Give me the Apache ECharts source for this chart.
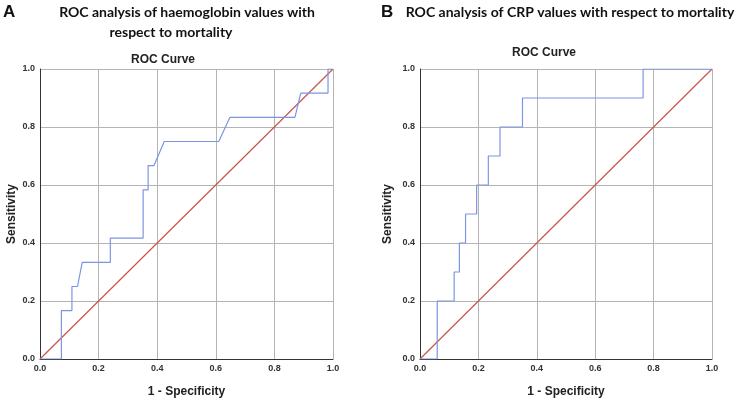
<!DOCTYPE html>
<html><head><meta charset="utf-8">
<script src="https://cdn.jsdelivr.net/npm/echarts@6/dist/echarts.min.js"></script>
<style>html,body{margin:0;padding:0;background:#fff}#c{width:740px;height:403px}</style>
</head><body><div id="c"></div>
<script>
// Panel A: haemoglobin ROC curve (1 - specificity, sensitivity)
var hbX = [0, 0.073, 0.073, 0.109, 0.109, 0.128, 0.144, 0.240, 0.240, 0.352, 0.352, 0.369, 0.369, 0.389, 0.424, 0.610, 0.648, 0.870, 0.890, 0.983, 0.983, 1.0];
var hbY = [0, 0, 0.167, 0.167, 0.250, 0.250, 0.333, 0.333, 0.417, 0.417, 0.583, 0.583, 0.667, 0.667, 0.750, 0.750, 0.833, 0.833, 0.917, 0.917, 1.0, 1.0];
// Panel B: CRP ROC curve
var crpX = [0, 0.059, 0.059, 0.117, 0.117, 0.135, 0.135, 0.156, 0.156, 0.194, 0.194, 0.234, 0.234, 0.274, 0.274, 0.351, 0.351, 0.764, 0.764, 1.0];
var crpY = [0, 0, 0.2, 0.2, 0.3, 0.3, 0.4, 0.4, 0.5, 0.5, 0.6, 0.6, 0.7, 0.7, 0.8, 0.8, 0.9, 0.9, 1.0, 1.0];
// Reference diagonal
var refX = [0, 1];
var refY = [0, 1];
var tickValues = [0, 0.2, 0.4, 0.6, 0.8, 1.0];

function pairs(xs, ys){ return xs.map(function(x,i){ return [x, ys[i]]; }); }

var chart = echarts.init(document.getElementById('c'), null, {renderer:'canvas'});
var tickFont = {fontFamily:'Liberation Sans, Arial, sans-serif', fontSize:9, color:'#333', fontWeight:'bold'};
function xAxis(gi){
  return {type:'value', gridIndex:gi, min:0, max:1, interval:0.2,
    axisLine:{show:true, onZero:false, lineStyle:{color:'#333', width:1}},
    axisTick:{show:false},
    axisLabel:Object.assign({margin:5, formatter:function(v){return v.toFixed(1);}}, tickFont),
    splitLine:{show:true, lineStyle:{color:'#b4b4b4', width:1}},
    name:'1 - Specificity', nameLocation:'middle', nameGap:27,
    nameTextStyle:{fontFamily:'Liberation Sans, Arial, sans-serif', fontSize:12, fontWeight:'bold', color:'#222'}};
}
function yAxis(gi){
  return {type:'value', gridIndex:gi, min:0, max:1, interval:0.2,
    axisLine:{show:true, onZero:false, lineStyle:{color:'#333', width:1}},
    axisTick:{show:false},
    axisLabel:Object.assign({margin:5, formatter:function(v){return v.toFixed(1);}}, tickFont),
    splitLine:{show:true, lineStyle:{color:'#b4b4b4', width:1}},
    name:'Sensitivity', nameLocation:'middle', nameGap:gi===0?22:26,
    nameTextStyle:{fontFamily:'Liberation Sans, Arial, sans-serif', fontSize:12, fontWeight:'bold', color:'#222'}};
}
var blue = '#7d95e2', red = '#c9544c';
var titleFont = 'Lato, "Open Sans", sans-serif';
chart.setOption({
  animation:false,
  grid:[{left:40, top:69, width:293, height:294},
        {left:420, top:69, width:292, height:293}],
  xAxis:[xAxis(0), xAxis(1)],
  yAxis:[yAxis(0), yAxis(1)],
  series:[
    {type:'line', xAxisIndex:0, yAxisIndex:0, data:pairs(refX, refY), symbol:'none', lineStyle:{color:red, width:1.2}},
    {type:'line', xAxisIndex:0, yAxisIndex:0, data:pairs(hbX, hbY), symbol:'none', lineStyle:{color:blue, width:1.2}},
    {type:'line', xAxisIndex:1, yAxisIndex:1, data:pairs(refX, refY), symbol:'none', lineStyle:{color:red, width:1.2}},
    {type:'line', xAxisIndex:1, yAxisIndex:1, data:pairs(crpX, crpY), symbol:'none', lineStyle:{color:blue, width:1.2}}
  ],
  graphic:[
    {type:'text', left:3, top:4, style:{text:'A', font:'bold 17px "Liberation Sans", Arial, sans-serif', fill:'#111'}},
    {type:'text', left:381, top:4, style:{text:'B', font:'bold 17px "Liberation Sans", Arial, sans-serif', fill:'#111'}},
    {type:'text', x:187, y:12, style:{text:'ROC analysis of haemoglobin values with', font:'bold 14px '+titleFont, fill:'#111', align:'center', verticalAlign:'middle'}},
    {type:'text', x:171, y:32, style:{text:'respect to mortality', font:'bold 14px '+titleFont, fill:'#111', align:'center', verticalAlign:'middle'}},
    {type:'text', x:570, y:12, style:{text:'ROC analysis of CRP values with respect to mortality', font:'bold 14px '+titleFont, fill:'#111', align:'center', verticalAlign:'middle'}},
    {type:'text', x:163, y:60, style:{text:'ROC Curve', font:'bold 12px "Liberation Sans", Arial, sans-serif', fill:'#222', align:'center', verticalAlign:'middle'}},
    {type:'text', x:544, y:53, style:{text:'ROC Curve', font:'bold 12px "Liberation Sans", Arial, sans-serif', fill:'#222', align:'center', verticalAlign:'middle'}}
  ]
});
</script></body></html>
